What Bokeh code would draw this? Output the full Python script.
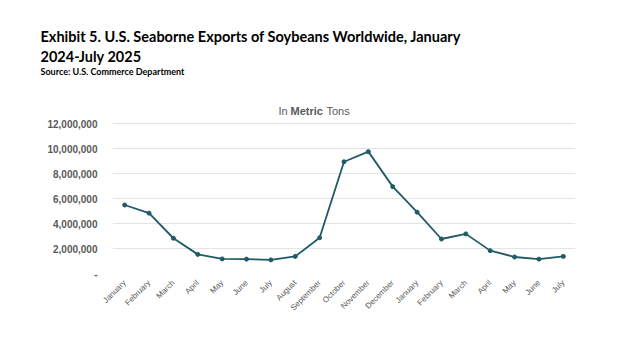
import math
from bokeh.plotting import figure
from bokeh.models import Label, FixedTicker, NumeralTickFormatter, Range1d, ColumnDataSource, Title
from bokeh.embed import file_html
from bokeh.resources import INLINE

months = ["January", "February", "March", "April", "May", "June", "July", "August",
          "September", "October", "November", "December",
          "January", "February", "March", "April", "May", "June", "July"]
exports = [5480000, 4830000, 2820000, 1530000, 1170000, 1150000, 1090000, 1370000,
           2860000, 8940000, 9750000, 6950000,
           4910000, 2760000, 3170000, 1830000, 1320000, 1150000, 1370000]
y_ticks = [0, 2000000, 4000000, 6000000, 8000000, 10000000, 12000000]

LINE = "#1f5a66"
GRAY = "#595959"

x = list(range(len(months)))
src = ColumnDataSource(dict(x=x, y=exports))

FRAME_TOP = 95
GRID_TOP = 123
GRID_BOTTOM = 273
ymax = 12000000 * (GRID_BOTTOM - FRAME_TOP) / (GRID_BOTTOM - GRID_TOP)

p = figure(width=624, height=351, output_backend="svg", toolbar_location=None,
           x_range=Range1d(-0.5, len(months) - 0.5), y_range=Range1d(0, ymax),
           min_border_left=112, min_border_right=49, min_border_top=FRAME_TOP,
           min_border_bottom=351 - GRID_BOTTOM)
p.outline_line_color = None
p.background_fill_color = "white"
p.border_fill_color = "white"

p.line("x", "y", source=src, line_color=LINE, line_width=1.8)
p.scatter("x", "y", source=src, size=4, color=LINE)

p.xgrid.grid_line_color = None
p.ygrid.grid_line_color = "#e4e4e4"
p.ygrid.grid_line_width = 1

p.yaxis.ticker = FixedTicker(ticks=y_ticks)
p.yaxis.formatter = NumeralTickFormatter(format="0,0")
p.yaxis.major_label_overrides = {0: "-"}
p.yaxis.axis_line_color = None
p.yaxis.major_tick_line_color = None
p.yaxis.minor_tick_line_color = None
p.yaxis.major_label_text_font = "Liberation Sans"
p.yaxis.major_label_text_font_style = "bold"
p.yaxis.major_label_text_font_size = "10px"
p.yaxis.major_label_text_color = GRAY
p.yaxis.major_label_standoff = 9

p.xaxis.ticker = FixedTicker(ticks=x)
p.xaxis.major_label_overrides = {i: m for i, m in enumerate(months)}
p.xaxis.major_label_orientation = math.pi / 4
p.xaxis.axis_line_color = None
p.xaxis.major_tick_line_color = None
p.xaxis.minor_tick_line_color = None
p.xaxis.major_label_text_font = "Liberation Sans"
p.xaxis.major_label_text_font_size = "8px"
p.xaxis.major_label_text_color = GRAY
p.xaxis.major_label_standoff = 2

TF = "Lato"
p.add_layout(Title(text="Source: U.S. Commerce Department", align="left", offset=-72,
                   text_font=TF, text_font_style="bold", text_font_size="9px",
                   text_color="black", standoff=38), "above")
p.add_layout(Title(text="2024-July 2025", align="left", offset=-72,
                   text_font=TF, text_font_style="bold", text_font_size="14.5px",
                   text_color="black", standoff=-40), "above")
p.add_layout(Title(text="Exhibit 5. U.S. Seaborne Exports of Soybeans Worldwide, January",
                   align="left", offset=-72,
                   text_font=TF, text_font_style="bold", text_font_size="14.5px",
                   text_color="black", standoff=0), "above")

y_lab = 12000000 * (GRID_BOTTOM - 110) / (GRID_BOTTOM - GRID_TOP)
for xs, txt, style in [(278, "In", "normal"), (290, "Metric", "bold"), (326, "Tons", "normal")]:
    p.add_layout(Label(x=xs - 112, y=y_lab, x_units="screen", y_units="data",
                       text=txt, text_font="Liberation Sans", text_font_style=style,
                       text_font_size="11px", text_color=GRAY, text_baseline="alphabetic"))

open("out.html", "w").write(file_html(p, INLINE))
